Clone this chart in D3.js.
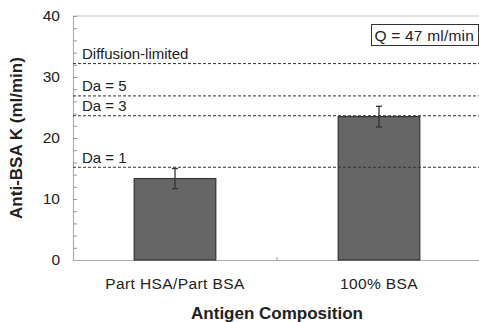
<!DOCTYPE html>
<html lang="en">
<head>
    <meta charset="UTF-8">
    <title>Anti-BSA K</title>
    <script src="https://d3js.org/d3.v7.min.js"></script>
</head>
<body>
    <div id="chart"></div>
</body>
<style>
    *{
        padding: 0;
        margin: 0;
    }
    body{
        background: white;
    }
    svg text{
        font-family: "Liberation Sans", Arial, sans-serif;
        fill: #222;
    }
</style>
<script>
    // values
    let categories = ["Part HSA/Part BSA", "100% BSA"];
    let values = [13.35, 23.5];
    let errors = [1.65, 1.7];
    let refLabels = ["Diffusion-limited", "Da = 5", "Da = 3", "Da = 1"];
    let refValues = [32.2, 26.9, 23.65, 15.2];
    let yTicks = [0, 10, 20, 30, 40];
    let yMinorTicks = d3.range(0, 41, 2);

    var w = 479;
    var h = 322;
    var margin = {top: 16, right: -2, bottom: 62, left: 73};
    var fs = 15.5;

    var svg = d3.select('#chart')
        .append('svg')
        .attr('width', w)
        .attr('height', h);

    let xScale = d3.scaleBand()
        .domain(categories)
        .range([margin.left, w - margin.right])
        .paddingInner(0.6)
        .paddingOuter(0.3);

    let yScale = d3.scaleLinear()
        .domain([0, 40])
        .range([h - margin.bottom, margin.top]);

    // top frame line (grey)
    svg.append('line')
        .attr('x1', margin.left).attr('x2', w - margin.right)
        .attr('y1', yScale(40)).attr('y2', yScale(40))
        .attr('stroke', '#c4c4c4').attr('stroke-width', 1.2);

    // minor ticks on left axis, pointing inward
    let yAxis = d3.axisRight(yScale)
        .tickValues(yMinorTicks)
        .tickSize(4)
        .tickFormat('');
    let gy = svg.append('g')
        .attr('transform', `translate(${margin.left},0)`)
        .call(yAxis);
    gy.select('.domain').attr('stroke', '#b0b0b0').attr('stroke-width', 1.2);
    gy.selectAll('.tick line').attr('stroke', '#999');

    // tick labels
    let yLab = d3.axisLeft(yScale)
        .tickValues(yTicks)
        .tickSize(0)
        .tickPadding(13);
    let gyl = svg.append('g')
        .attr('transform', `translate(${margin.left},0)`)
        .call(yLab);
    gyl.select('.domain').remove();
    gyl.selectAll('text')
        .attr('font-size', fs)
        .attr('font-family', '"Liberation Sans", Arial, sans-serif')
        .attr('fill', '#222');

    // x axis
    let xAxis = d3.axisBottom(xScale).tickSize(0).tickPadding(18);
    let gx = svg.append('g')
        .attr('transform', `translate(0,${yScale(0)})`)
        .call(xAxis);
    gx.select('.domain').attr('stroke', '#b0b0b0').attr('stroke-width', 1.2);
    gx.selectAll('text')
        .attr('font-size', fs)
        .attr('letter-spacing', 0.4)
        .attr('font-family', '"Liberation Sans", Arial, sans-serif')
        .attr('fill', '#222');

    // small category ticks (at centres and boundary)
    let centres = categories.map(c => xScale(c) + xScale.bandwidth() / 2);
    let tickXs = centres.concat([(centres[0] + centres[1]) / 2]);
    svg.selectAll('line.xtick')
        .data(tickXs)
        .enter()
        .append('line')
        .attr('class', 'xtick')
        .attr('x1', d => d).attr('x2', d => d)
        .attr('y1', yScale(0)).attr('y2', yScale(0) - 3)
        .attr('stroke', '#999');

    // bars
    svg.selectAll('rect.bar')
        .data(values)
        .enter()
        .append('rect')
        .attr('class', 'bar')
        .attr('x', (d, i) => xScale(categories[i]))
        .attr('width', xScale.bandwidth())
        .attr('y', d => yScale(d))
        .attr('height', d => yScale(0) - yScale(d))
        .attr('fill', '#666666')
        .attr('stroke', '#333')
        .attr('stroke-width', 1.2);

    // reference dashed lines
    svg.selectAll('line.ref')
        .data(refValues)
        .enter()
        .append('line')
        .attr('class', 'ref')
        .attr('x1', margin.left).attr('x2', w)
        .attr('y1', d => yScale(d)).attr('y2', d => yScale(d))
        .attr('stroke', '#333')
        .attr('stroke-width', 1)
        .attr('stroke-dasharray', '3,2');

    svg.selectAll('text.ref')
        .data(refValues)
        .enter()
        .append('text')
        .attr('class', 'ref')
        .attr('x', margin.left + 9)
        .attr('y', d => yScale(d) - 4.5)
        .attr('font-size', 15)
        .text((d, i) => refLabels[i]);

    // error bars
    let eb = svg.selectAll('g.err')
        .data(values)
        .enter()
        .append('g')
        .attr('class', 'err');
    eb.append('line')
        .attr('x1', (d, i) => centres[i]).attr('x2', (d, i) => centres[i])
        .attr('y1', (d, i) => yScale(d + errors[i]))
        .attr('y2', (d, i) => yScale(d - errors[i]))
        .attr('stroke', '#333').attr('stroke-width', 1.3);
    [1, -1].forEach(s => {
        eb.append('line')
            .attr('x1', (d, i) => centres[i] - 3).attr('x2', (d, i) => centres[i] + 3)
            .attr('y1', (d, i) => yScale(d + s * errors[i]))
            .attr('y2', (d, i) => yScale(d + s * errors[i]))
            .attr('stroke', '#333').attr('stroke-width', 1.3);
    });

    // Q box
    let qg = svg.append('g');
    qg.append('rect')
        .attr('x', 371.5)
        .attr('y', 24.5)
        .attr('width', 107)
        .attr('height', 21)
        .attr('fill', 'white')
        .attr('stroke', '#333')
        .attr('stroke-width', 1);
    qg.append('text')
        .attr('x', 374.5)
        .attr('y', 40.5)
        .attr('font-size', 15.5)
        .attr('letter-spacing', 0.2)
        .text('Q = 47 ml/min');

    // axis titles
    svg.append('text')
        .attr('transform', `translate(22,${(yScale(0) + yScale(40)) / 2}) rotate(-90)`)
        .attr('text-anchor', 'middle')
        .attr('font-size', 17)
        .attr('font-weight', 'bold')
        .text('Anti-BSA K (ml/min)');

    svg.append('text')
        .attr('x', (centres[0] + centres[1]) / 2)
        .attr('y', 319)
        .attr('text-anchor', 'middle')
        .attr('font-size', 17)
        .attr('font-weight', 'bold')
        .text('Antigen Composition');
</script>
</html>
